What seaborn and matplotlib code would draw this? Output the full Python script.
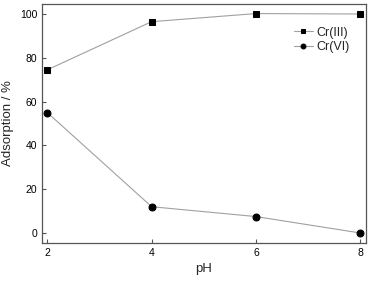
import numpy as np
import pandas as pd
import matplotlib
matplotlib.use("Agg")
import matplotlib.pyplot as plt
import seaborn as sns

# data
ph = [2, 4, 6, 8]
cr3 = [74.5, 96.5, 100.2, 100.0]
cr6 = [55.0, 12.0, 7.5, 0.0]

df = pd.DataFrame({"pH": ph * 2,
                   "ads": cr3 + cr6,
                   "species": ["Cr(III)"] * 4 + ["Cr(VI)"] * 4})

sns.set_style("ticks")
plt.rcParams['font.family'] = ['Liberation Sans', 'DejaVu Sans']

fig = plt.figure(figsize=(3.69, 2.81), dpi=100)
ax = fig.add_axes([0.114, 0.135, 0.878, 0.851])

sns.lineplot(data=df, x="pH", y="ads", hue="species", style="species",
             markers={"Cr(III)": "s", "Cr(VI)": "o"}, dashes=False,
             palette={"Cr(III)": "#a0a0a0", "Cr(VI)": "#a0a0a0"},
             linewidth=0.8, markersize=5, markeredgecolor="black",
             markerfacecolor="black", ax=ax)

ax.set_xlim(1.9, 8.11)
ax.set_ylim(-4.6, 104.6)
ax.set_xticks([2, 4, 6, 8])
ax.set_yticks([0, 20, 40, 60, 80, 100])
ax.tick_params(direction="in", length=3, width=0.8, labelsize=7.5, colors="black")
ax.tick_params(color="#555555")
ax.set_xlabel("pH", fontsize=9.5)
ax.set_ylabel("Adsorption / %", fontsize=9.5)
for s in ax.spines.values():
    s.set_linewidth(0.9)
    s.set_color("#555555")

h, l = ax.get_legend_handles_labels()
for hh in h:
    hh.set_markerfacecolor("black")
    hh.set_markeredgecolor("black")
    hh.set_markersize(3.5)
ax.legend(h, l, loc="upper right", frameon=False, fontsize=9,
          bbox_to_anchor=(0.965, 0.925), borderaxespad=0, handlelength=1.5,
          handletextpad=0.3, labelspacing=0.2)

fig.savefig("out.png", dpi=100)
